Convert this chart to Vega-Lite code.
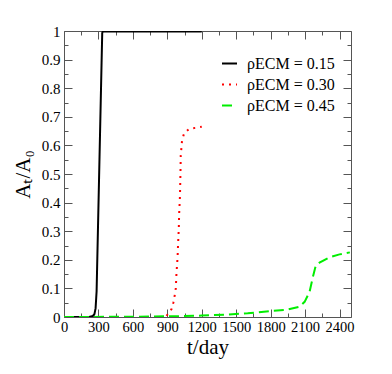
{
  "$schema": "https://vega.github.io/schema/vega-lite/v6.json",
  "width": 287,
  "height": 286,
  "autosize": "none",
  "padding": {"left": 64, "top": 31, "right": 41, "bottom": 57},
  "background": "white",
  "config": {
    "font": "Liberation Serif",
    "view": {"stroke": null},
    "axis": {"grid": false, "domainColor": "#555", "tickColor": "#555", "labelColor": "black", "titleColor": "black", "labelFont": "Liberation Serif", "titleFont": "Liberation Serif", "titleFontWeight": "normal"},
    "legend": {"labelFont": "Liberation Serif"}
  },
  "data": {
    "values": [
      {"t": 0, "v": 0, "rho": "0.15"},
      {"t": 220, "v": 0, "rho": "0.15"},
      {"t": 250, "v": 0.003, "rho": "0.15"},
      {"t": 265, "v": 0.01, "rho": "0.15"},
      {"t": 275, "v": 0.03, "rho": "0.15"},
      {"t": 284, "v": 0.09, "rho": "0.15"},
      {"t": 333, "v": 0.993, "rho": "0.15"},
      {"t": 337, "v": 0.998, "rho": "0.15"},
      {"t": 1200, "v": 0.998, "rho": "0.15"},

      {"t": 893, "v": 0.004, "rho": "0.30"},
      {"t": 936, "v": 0.027, "rho": "0.30"},
      {"t": 953, "v": 0.051, "rho": "0.30"},
      {"t": 966, "v": 0.079, "rho": "0.30"},
      {"t": 974, "v": 0.101, "rho": "0.30"},
      {"t": 980, "v": 0.155, "rho": "0.30"},
      {"t": 989, "v": 0.206, "rho": "0.30"},
      {"t": 994, "v": 0.258, "rho": "0.30"},
      {"t": 1000, "v": 0.31, "rho": "0.30"},
      {"t": 1003, "v": 0.36, "rho": "0.30"},
      {"t": 1009, "v": 0.412, "rho": "0.30"},
      {"t": 1011, "v": 0.438, "rho": "0.30"},
      {"t": 1015, "v": 0.514, "rho": "0.30"},
      {"t": 1017, "v": 0.566, "rho": "0.30"},
      {"t": 1023, "v": 0.592, "rho": "0.30"},
      {"t": 1028, "v": 0.616, "rho": "0.30"},
      {"t": 1046, "v": 0.642, "rho": "0.30"},
      {"t": 1090, "v": 0.658, "rho": "0.30"},
      {"t": 1154, "v": 0.662, "rho": "0.30"},
      {"t": 1200, "v": 0.665, "rho": "0.30"},

      {"t": 0, "v": 0.0, "rho": "0.45"},
      {"t": 600, "v": 0.001, "rho": "0.45"},
      {"t": 1000, "v": 0.003, "rho": "0.45"},
      {"t": 1200, "v": 0.005, "rho": "0.45"},
      {"t": 1400, "v": 0.008, "rho": "0.45"},
      {"t": 1600, "v": 0.013, "rho": "0.45"},
      {"t": 1800, "v": 0.021, "rho": "0.45"},
      {"t": 1937, "v": 0.025, "rho": "0.45"},
      {"t": 2052, "v": 0.036, "rho": "0.45"},
      {"t": 2096, "v": 0.053, "rho": "0.45"},
      {"t": 2139, "v": 0.088, "rho": "0.45"},
      {"t": 2168, "v": 0.14, "rho": "0.45"},
      {"t": 2191, "v": 0.176, "rho": "0.45"},
      {"t": 2226, "v": 0.19, "rho": "0.45"},
      {"t": 2313, "v": 0.209, "rho": "0.45"},
      {"t": 2400, "v": 0.219, "rho": "0.45"},
      {"t": 2490, "v": 0.226, "rho": "0.45"}
    ]
  },
  "resolve": {"axis": {"x": "independent", "y": "independent"}},
  "layer": [
    {
      "mark": {"type": "line", "strokeWidth": 2, "clip": true},
      "encoding": {
        "x": {"field": "t", "type": "quantitative", "scale": {"domain": [0, 2500], "nice": false},
          "axis": {"orient": "bottom", "values": [0, 300, 600, 900, 1200, 1500, 1800, 2100, 2400], "format": "d", "tickSize": -8, "labelPadding": 11, "labelFontSize": 14.5, "labelFont": "Liberation Serif", "labelFlush": false, "labelOverlap": false, "title": "t/day", "titleFont": "Liberation Serif", "titleFontSize": 21, "titlePadding": 3}},
        "y": {"field": "v", "type": "quantitative", "scale": {"domain": [0, 1], "nice": false},
          "axis": {"orient": "left", "values": [0, 0.1, 0.2, 0.3, 0.4, 0.5, 0.6, 0.7, 0.8, 0.9, 1], "format": ".1~f", "tickSize": -8, "labelPadding": 12, "labelFontSize": 15, "labelFont": "Liberation Serif", "labelFlush": false, "labelOverlap": false, "title": "Aₜ/A₀", "titleFont": "Liberation Serif", "titleFontSize": 21, "titlePadding": 8}},
        "color": {"field": "rho", "type": "nominal", "scale": {"domain": ["0.15", "0.30", "0.45"], "range": ["#000000", "#ff0000", "#00ee00"]},
          "legend": {"orient": "none", "legendX": 157, "legendY": 24, "title": null, "symbolType": "stroke", "symbolSize": 225, "symbolStrokeWidth": 2, "labelFontSize": 16, "labelFont": "Liberation Serif", "rowPadding": 4, "labelOffset": 9, "labelExpr": "'ρECM = ' + datum.label"}},
        "strokeDash": {"field": "rho", "type": "nominal", "scale": {"domain": ["0.15", "0.30", "0.45"], "range": [[1, 0], [2, 5], [10, 5]]}, "legend": null}
      }
    },
    {
      "mark": {"type": "point", "opacity": 0},
      "encoding": {
        "x": {"field": "t", "type": "quantitative", "axis": {"orient": "top", "values": [0, 300, 600, 900, 1200, 1500, 1800, 2100, 2400], "tickSize": -8, "labels": false, "title": null}},
        "y": {"field": "v", "type": "quantitative", "axis": {"orient": "right", "values": [0, 0.1, 0.2, 0.3, 0.4, 0.5, 0.6, 0.7, 0.8, 0.9, 1], "tickSize": -8, "labels": false, "title": null}}
      }
    },
    {
      "mark": {"type": "point", "opacity": 0},
      "encoding": {
        "x": {"field": "t", "type": "quantitative", "axis": {"orient": "bottom", "values": [150, 450, 750, 1050, 1350, 1650, 1950, 2250], "tickSize": -4, "labels": false, "domain": false, "title": null}},
        "y": {"field": "v", "type": "quantitative", "axis": {"orient": "left", "values": [0.05, 0.15, 0.25, 0.35, 0.45, 0.55, 0.65, 0.75, 0.85, 0.95], "tickSize": -4, "labels": false, "domain": false, "title": null}}
      }
    },
    {
      "mark": {"type": "point", "opacity": 0},
      "encoding": {
        "x": {"field": "t", "type": "quantitative", "axis": {"orient": "top", "values": [150, 450, 750, 1050, 1350, 1650, 1950, 2250], "tickSize": -4, "labels": false, "domain": false, "title": null}},
        "y": {"field": "v", "type": "quantitative", "axis": {"orient": "right", "values": [0.05, 0.15, 0.25, 0.35, 0.45, 0.55, 0.65, 0.75, 0.85, 0.95], "tickSize": -4, "labels": false, "domain": false, "title": null}}
      }
    }
  ]
}
